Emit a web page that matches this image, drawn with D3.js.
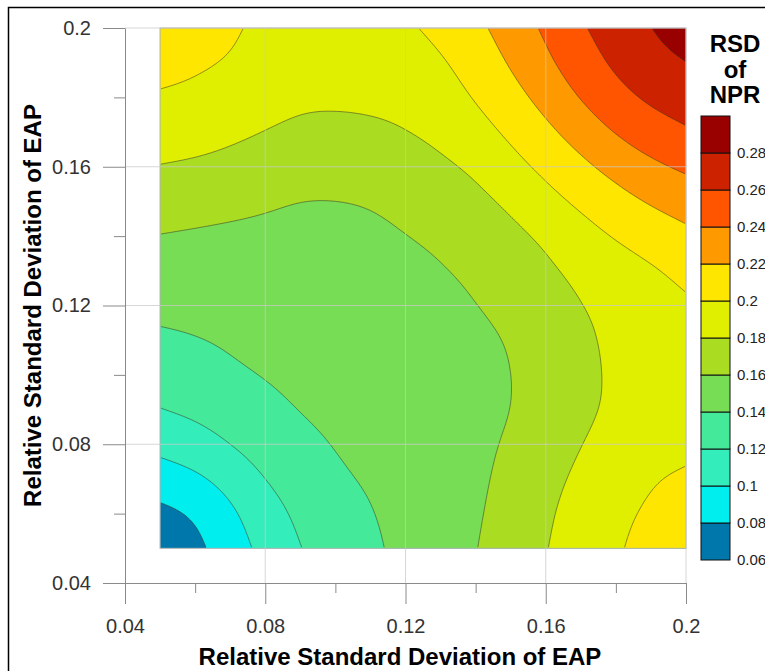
<!DOCTYPE html>
<html>
<head>
<meta charset="utf-8">
<script src="https://cdn.jsdelivr.net/npm/d3@7"></script>
<style>
  body { margin: 0; background: #fff; }
  svg { display: block; }
  text { font-family: "Liberation Sans", Arial, sans-serif; }
</style>
</head>
<body>
<svg id="chart"></svg>
<script>
/* global d3 */

// Grid of the surface: RSD of EAP on both axes
const eapX = [0.05, 0.06, 0.07, 0.08, 0.09, 0.10, 0.11, 0.12, 0.13, 0.14, 0.15, 0.16, 0.17, 0.18, 0.19, 0.20]
const eapY = [0.05, 0.06, 0.07, 0.08, 0.09, 0.10, 0.11, 0.12, 0.13, 0.14, 0.15, 0.16, 0.17, 0.18, 0.19, 0.20]

// RSD of NPR, one row per eapY value (bottom row first), columns follow eapX
const rsdNpr = [
  [0.062, 0.075, 0.0902, 0.106, 0.1205, 0.1287, 0.137, 0.1446, 0.152, 0.159, 0.169, 0.1794, 0.1891, 0.199, 0.2045, 0.2095],
  [0.075, 0.0803, 0.0955, 0.1116, 0.1241, 0.1323, 0.1392, 0.1454, 0.1516, 0.1577, 0.1667, 0.1776, 0.1875, 0.1971, 0.2025, 0.2055],
  [0.0902, 0.0955, 0.1073, 0.1209, 0.1296, 0.1377, 0.1419, 0.1469, 0.1519, 0.1569, 0.164, 0.1745, 0.1839, 0.1919, 0.200, 0.2015],
  [0.106, 0.1116, 0.1209, 0.1284, 0.1364, 0.1409, 0.1452, 0.149, 0.1529, 0.1567, 0.1613, 0.1706, 0.1798, 0.187, 0.195, 0.1975],
  [0.1205, 0.1241, 0.1296, 0.1364, 0.1411, 0.1433, 0.1476, 0.1507, 0.1538, 0.1569, 0.1585, 0.168, 0.1761, 0.183, 0.1885, 0.194],
  [0.1287, 0.1323, 0.1377, 0.1409, 0.1433, 0.1455, 0.1485, 0.1515, 0.1545, 0.1575, 0.1585, 0.1673, 0.175, 0.1832, 0.1875, 0.192],
  [0.137, 0.1392, 0.1419, 0.1452, 0.1476, 0.1485, 0.1499, 0.1525, 0.155, 0.1575, 0.1598, 0.1687, 0.1765, 0.1838, 0.188, 0.1925],
  [0.1446, 0.1454, 0.1469, 0.149, 0.1507, 0.1515, 0.1525, 0.1543, 0.1568, 0.1593, 0.1636, 0.1717, 0.1798, 0.1846, 0.1905, 0.1965],
  [0.152, 0.1516, 0.1519, 0.1529, 0.1538, 0.1545, 0.155, 0.1568, 0.1587, 0.1621, 0.1695, 0.177, 0.1839, 0.1905, 0.197, 0.2053],
  [0.159, 0.1577, 0.1569, 0.1567, 0.1569, 0.1575, 0.1575, 0.1593, 0.1621, 0.1686, 0.1753, 0.1823, 0.1923, 0.2014, 0.2092, 0.2153],
  [0.169, 0.1667, 0.164, 0.1613, 0.1585, 0.1585, 0.1598, 0.1636, 0.1695, 0.1753, 0.1828, 0.1936, 0.2038, 0.2131, 0.2216, 0.2283],
  [0.1794, 0.1776, 0.1745, 0.1706, 0.168, 0.1673, 0.1687, 0.1717, 0.177, 0.1823, 0.1936, 0.2047, 0.2154, 0.2264, 0.2364, 0.2432],
  [0.1891, 0.1875, 0.1839, 0.1798, 0.1761, 0.175, 0.1765, 0.1798, 0.1839, 0.1923, 0.2038, 0.2154, 0.2285, 0.2417, 0.2515, 0.2583],
  [0.199, 0.1971, 0.1919, 0.187, 0.183, 0.1832, 0.1838, 0.1846, 0.1905, 0.2014, 0.2131, 0.2264, 0.2417, 0.2543, 0.264, 0.2694],
  [0.2045, 0.2025, 0.200, 0.195, 0.1885, 0.1875, 0.188, 0.1905, 0.197, 0.2092, 0.2216, 0.2364, 0.2515, 0.264, 0.274, 0.2797],
  [0.2095, 0.2055, 0.2015, 0.1975, 0.194, 0.192, 0.1925, 0.1965, 0.2053, 0.2153, 0.2283, 0.2432, 0.2583, 0.2694, 0.2797, 0.290]
]

// Contour levels and their band colours (band i is levels[i]..levels[i+1])
const levels = [0.06, 0.08, 0.10, 0.12, 0.14, 0.16, 0.18, 0.20, 0.22, 0.24, 0.26, 0.28, 0.30]
const bandColors = ['#0077aa', '#00eeee', '#33eebb', '#44ea99', '#77dd55', '#aadc22',
  '#e0ef00', '#ffe600', '#ff9900', '#ff5500', '#cc2200', '#990000']
const legendLabels = ['0.06', '0.08', '0.1', '0.12', '0.14', '0.16', '0.18', '0.2', '0.22', '0.24', '0.26', '0.28']

const majorTicks = [0.04, 0.08, 0.12, 0.16, 0.2]
const minorTicks = [0.06, 0.10, 0.14, 0.18]

const svgWidth = 765
const svgHeight = 671

const svg = d3.select('#chart')
  .attr('width', svgWidth)
  .attr('height', svgHeight)

// Outer frame
svg.append('path')
  .attr('d', `M8.5,${svgHeight} V7.5 H${svgWidth}`)
  .attr('fill', 'none')
  .attr('stroke', '#000')
  .attr('stroke-width', 1.5)

const xScale = d3.scaleLinear().domain([0.04, 0.2]).range([125, 686])
const yScale = d3.scaleLinear().domain([0.04, 0.2]).range([583, 28])

// Smooth the grid for drawing (cubic B-spline surface, rendering only)
const nx = eapX.length
const ny = eapY.length
const up = 15
const N = (nx - 1) * up + 1
const M = (ny - 1) * up + 1

function cell (i, j) {
  if (i < 0) return 2 * cell(0, j) - cell(1, j)
  if (i > nx - 1) return 2 * cell(nx - 1, j) - cell(nx - 2, j)
  if (j < 0) return 2 * cell(i, 0) - cell(i, 1)
  if (j > ny - 1) return 2 * cell(i, ny - 1) - cell(i, ny - 2)
  return rsdNpr[j][i]
}
function weights (t) {
  const t2 = t * t
  const t3 = t2 * t
  return [(1 - t) * (1 - t) * (1 - t) / 6, (3 * t3 - 6 * t2 + 4) / 6, (-3 * t3 + 3 * t2 + 3 * t + 1) / 6, t3 / 6]
}
function sample (gx, gy) {
  const ix = Math.min(Math.floor(gx), nx - 2)
  const iy = Math.min(Math.floor(gy), ny - 2)
  const wx = weights(gx - ix)
  const wy = weights(gy - iy)
  let v = 0
  for (let b = 0; b < 4; b++) {
    for (let a = 0; a < 4; a++) {
      v += wx[a] * wy[b] * cell(ix - 1 + a, iy - 1 + b)
    }
  }
  return v
}

const values = new Array(N * M)
for (let j = 0; j < M; j++) {
  for (let i = 0; i < N; i++) {
    values[j * N + i] = sample(i / up, j / up)
  }
}

// contour coords -> data -> pixels
const cx = d3.scaleLinear().domain([0.5, N - 0.5]).range([eapX[0], eapX[nx - 1]])
const cy = d3.scaleLinear().domain([0.5, M - 0.5]).range([eapY[0], eapY[ny - 1]])
const path = d3.geoPath(d3.geoTransform({
  point (x, y) { this.stream.point(xScale(cx(x)), yScale(cy(y))) }
}))

const x0 = xScale(eapX[0])
const x1 = xScale(eapX[nx - 1])
const y0 = yScale(eapY[ny - 1])
const y1 = yScale(eapY[0])

const defs = svg.append('defs')
defs.append('clipPath').attr('id', 'clip-fill')
  .append('rect').attr('x', x0).attr('y', y0).attr('width', x1 - x0).attr('height', y1 - y0)
defs.append('clipPath').attr('id', 'clip-line')
  .append('rect').attr('x', x0 + 1).attr('y', y0 + 1).attr('width', x1 - x0 - 2).attr('height', y1 - y0 - 2)

const thresholds = levels.slice(1, -1)
const contours = d3.contours().size([N, M]).thresholds(thresholds)(values)

const fillGroup = svg.append('g').attr('clip-path', 'url(#clip-fill)')
fillGroup.append('rect')
  .attr('x', x0).attr('y', y0).attr('width', x1 - x0).attr('height', y1 - y0)
  .attr('fill', bandColors[0])
fillGroup.selectAll('path.band')
  .data(contours)
  .enter()
  .append('path')
  .attr('class', 'band')
  .attr('d', path)
  .attr('fill', (d, i) => bandColors[i + 1])

svg.append('g').attr('clip-path', 'url(#clip-line)')
  .selectAll('path')
  .data(contours)
  .enter()
  .append('path')
  .attr('d', path)
  .attr('fill', 'none')
  .attr('stroke', '#3a3a2a')
  .attr('stroke-opacity', 0.6)
  .attr('stroke-width', 0.9)

// thin edge around the data area
svg.append('rect')
  .attr('x', x0).attr('y', y0).attr('width', x1 - x0).attr('height', y1 - y0)
  .attr('fill', 'none').attr('stroke', '#b0b0b0').attr('stroke-width', 1)

// Grid lines
const grid = svg.append('g').attr('stroke', '#c8c8c8').attr('stroke-opacity', 0.75)
grid.selectAll('line.gx').data(majorTicks.slice(1)).enter().append('line')
  .attr('x1', d => xScale(d)).attr('x2', d => xScale(d))
  .attr('y1', yScale(0.2)).attr('y2', yScale(0.04))
grid.selectAll('line.gy').data(majorTicks.slice(1)).enter().append('line')
  .attr('y1', d => yScale(d)).attr('y2', d => yScale(d))
  .attr('x1', xScale(0.04)).attr('x2', xScale(0.2))

// Axes
const fmt = d3.format('~g')
function styleAxis (g) {
  g.select('.domain').attr('stroke', '#8a8a8a')
  g.selectAll('.tick line').attr('stroke', '#8a8a8a')
  g.selectAll('.tick text').attr('fill', '#333').style('font-size', '20px')
    .style('font-family', '"Liberation Sans", Arial, sans-serif')
}

svg.append('g')
  .attr('transform', `translate(0,${yScale(0.04)})`)
  .call(d3.axisBottom(xScale).tickValues(majorTicks).tickFormat(fmt).tickSize(21).tickSizeOuter(0).tickPadding(15))
  .call(styleAxis)
svg.append('g')
  .attr('transform', `translate(0,${yScale(0.04)})`)
  .call(d3.axisBottom(xScale).tickValues(minorTicks).tickFormat('').tickSize(10).tickSizeOuter(0))
  .call(g => g.select('.domain').remove())
  .call(styleAxis)

svg.append('g')
  .attr('transform', `translate(${xScale(0.04)},0)`)
  .call(d3.axisLeft(yScale).tickValues(majorTicks).tickFormat(fmt).tickSize(22).tickSizeOuter(0).tickPadding(12))
  .call(styleAxis)
svg.append('g')
  .attr('transform', `translate(${xScale(0.04)},0)`)
  .call(d3.axisLeft(yScale).tickValues(minorTicks).tickFormat('').tickSize(11).tickSizeOuter(0))
  .call(g => g.select('.domain').remove())
  .call(styleAxis)

// Axis titles
svg.append('text')
  .attr('x', 400)
  .attr('y', 665)
  .attr('text-anchor', 'middle')
  .style('font-size', '24px')
  .style('font-weight', 'bold')
  .text('Relative Standard Deviation of EAP')

svg.append('text')
  .attr('transform', `translate(41,${(yScale(0.2) + yScale(0.04)) / 2}) rotate(-90)`)
  .attr('text-anchor', 'middle')
  .style('font-size', '24px')
  .style('font-weight', 'bold')
  .text('Relative Standard Deviation of EAP')

// Colour legend
const legendX = 701
const legendW = 29
const legendScale = d3.scaleLinear().domain([0.06, 0.30]).range([560, 116])

const legend = svg.append('g').attr('id', 'legend')
legend.selectAll('rect')
  .data(bandColors)
  .enter()
  .append('rect')
  .attr('x', legendX)
  .attr('y', (d, i) => legendScale(levels[i + 1]))
  .attr('width', legendW)
  .attr('height', (d, i) => legendScale(levels[i]) - legendScale(levels[i + 1]))
  .attr('fill', d => d)
  .attr('stroke', '#111')
  .attr('stroke-width', 1)

legend.selectAll('text.lab')
  .data(legendLabels)
  .enter()
  .append('text')
  .attr('class', 'lab')
  .attr('x', 737)
  .attr('y', (d, i) => legendScale(levels[i]))
  .attr('dy', '0.36em')
  .attr('fill', '#222')
  .style('font-size', '15px')
  .text(d => d)

const legendTitle = ['RSD', 'of', 'NPR']
legend.selectAll('text.title')
  .data(legendTitle)
  .enter()
  .append('text')
  .attr('class', 'title')
  .attr('x', 735)
  .attr('y', (d, i) => 52 + i * 25.5)
  .attr('text-anchor', 'middle')
  .style('font-size', '24px')
  .style('font-weight', 'bold')
  .text(d => d)
</script>
</body>
</html>
